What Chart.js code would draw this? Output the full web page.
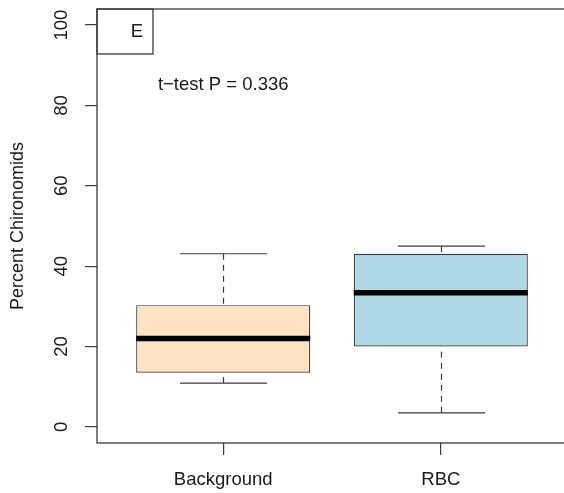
<!DOCTYPE html>
<html>
<head>
<meta charset="utf-8">
<script src="https://cdn.jsdelivr.net/npm/chart.js@4/dist/chart.umd.min.js"></script>
<style>
  html, body { margin: 0; padding: 0; background: #fff; overflow: hidden; }
  #wrap { position: relative; width: 567px; height: 493px; }
  canvas { display: block; }
</style>
</head>
<body>
<div id="wrap"><canvas id="c"></canvas></div>
<script>
// Percent chironomids by site type: five-number summaries per group
const categories   = ['Background', 'RBC'];
const positions    = [1, 2];
const whiskerLow   = [10.9, 3.5];
const quartileLow  = [13.5, 20.0];
const medians      = [22.0, 33.4];
const quartileHigh = [30.3, 43.1];
const whiskerHigh  = [43.1, 45.0];
const yTicks       = [0, 20, 40, 60, 80, 100];
const boxFills     = ['#FFE4C4', '#ADD8E6'];
const panelLabel   = 'E';
const testLabel    = 't\u2212test P = 0.336';
const testLabelAt  = { x: 1, y: 85 };

const FONT = '"Liberation Sans", Arial, sans-serif';
const INK = '#1a1a1a';
const LINE = '#3a3a3a';

// whiskers, staples and median bars drawn on top of the floating boxes
const boxExtras = {
  id: 'boxExtras',
  afterDatasetsDraw(chart) {
    const { ctx, scales: { x, y } } = chart;
    const bars = chart.getDatasetMeta(0).data;
    const seg = (x1, y1, x2, y2) => {
      ctx.beginPath(); ctx.moveTo(x1, y1); ctx.lineTo(x2, y2); ctx.stroke();
    };
    ctx.save();
    positions.forEach((p, i) => {
      const cx = Math.round(x.getPixelForValue(p)) + 0.5;
      const half = bars[i].width / 2;
      const staple = half / 2;
      const yLo = y.getPixelForValue(whiskerLow[i]);
      const yQ1 = y.getPixelForValue(quartileLow[i]);
      const yMed = y.getPixelForValue(medians[i]);
      const yQ3 = y.getPixelForValue(quartileHigh[i]);
      const yHi = y.getPixelForValue(whiskerHigh[i]);

      ctx.strokeStyle = LINE;
      ctx.lineWidth = 1.2;
      ctx.lineCap = 'butt';
      ctx.setLineDash([6, 5]);
      seg(cx, yHi, cx, yQ3);
      seg(cx, yLo, cx, yQ1);
      ctx.setLineDash([]);
      seg(cx - staple, yHi, cx + staple, yHi);
      seg(cx - staple, yLo, cx + staple, yLo);

      ctx.strokeStyle = '#000';
      ctx.lineWidth = 5.5;
      seg(bars[i].x - half, yMed, bars[i].x + half, yMed);
    });
    ctx.restore();
  },
  afterDraw(chart) {
    const { ctx, chartArea: a, scales: { x, y } } = chart;
    ctx.save();
    // plot frame
    ctx.strokeStyle = LINE;
    ctx.lineWidth = 1.3;
    ctx.strokeRect(a.left, a.top, a.right - a.left, a.bottom - a.top);
    // panel letter box in the top-left corner
    ctx.strokeRect(a.left, a.top, 56, 45);
    ctx.fillStyle = INK;
    ctx.font = '18.5px ' + FONT;
    ctx.textAlign = 'center';
    ctx.textBaseline = 'middle';
    ctx.fillText(panelLabel, a.left + 40, a.top + 23);
    // test result annotation
    ctx.fillText(testLabel, x.getPixelForValue(testLabelAt.x), y.getPixelForValue(testLabelAt.y));
    ctx.restore();
  }
};

new Chart(document.getElementById('c'), {
  type: 'bar',
  data: {
    datasets: [{
      data: positions.map((p, i) => ({ x: p, y: [quartileLow[i], quartileHigh[i]] })),
      backgroundColor: boxFills,
      borderColor: LINE,
      borderWidth: 1.2,
      borderSkipped: false,
      categoryPercentage: 1,
      barPercentage: 0.8
    }]
  },
  options: {
    responsive: true,
    maintainAspectRatio: false,
    devicePixelRatio: 1,
    animation: false,
    layout: { padding: { top: 9, left: 0, right: 0, bottom: 0 } },
    plugins: { legend: { display: false }, tooltip: { enabled: false } },
    scales: {
      x: {
        type: 'linear',
        offset: false,
        min: 0.42,
        max: 2.58,
        afterBuildTicks(scale) { scale.ticks = positions.map(v => ({ value: v })); },
        afterFit(scale) {
          scale.height = 50;
          scale.paddingLeft = 0; scale.paddingRight = 0;
        },
        ticks: {
          autoSkip: false,
          maxRotation: 0,
          padding: 14,
          color: INK,
          font: { family: FONT, size: 18.5 },
          callback: (v) => categories[positions.indexOf(v)] ?? ''
        },
        grid: { offset: false, drawOnChartArea: false, drawTicks: true, tickLength: 12, color: LINE, lineWidth: 1.2 },
        border: { display: false }
      },
      y: {
        type: 'linear',
        min: -4,
        max: 104,
        afterBuildTicks(scale) { scale.ticks = yTicks.map(v => ({ value: v })); },
        afterFit(scale) {
          scale.width = 97;
          scale.paddingTop = 0; scale.paddingBottom = 0;
        },
        ticks: {
          minRotation: 90,
          maxRotation: 90,
          crossAlign: 'center',
          padding: 8,
          color: INK,
          font: { family: FONT, size: 18.5 }
        },
        grid: { drawOnChartArea: false, drawTicks: true, tickLength: 12, color: LINE, lineWidth: 1.2 },
        border: { display: false },
        title: {
          display: true,
          text: 'Percent Chironomids',
          color: INK,
          font: { family: FONT, size: 18 },
          padding: { top: 7, bottom: 0 }
        }
      }
    }
  },
  plugins: [boxExtras]
});
</script>
</body>
</html>
